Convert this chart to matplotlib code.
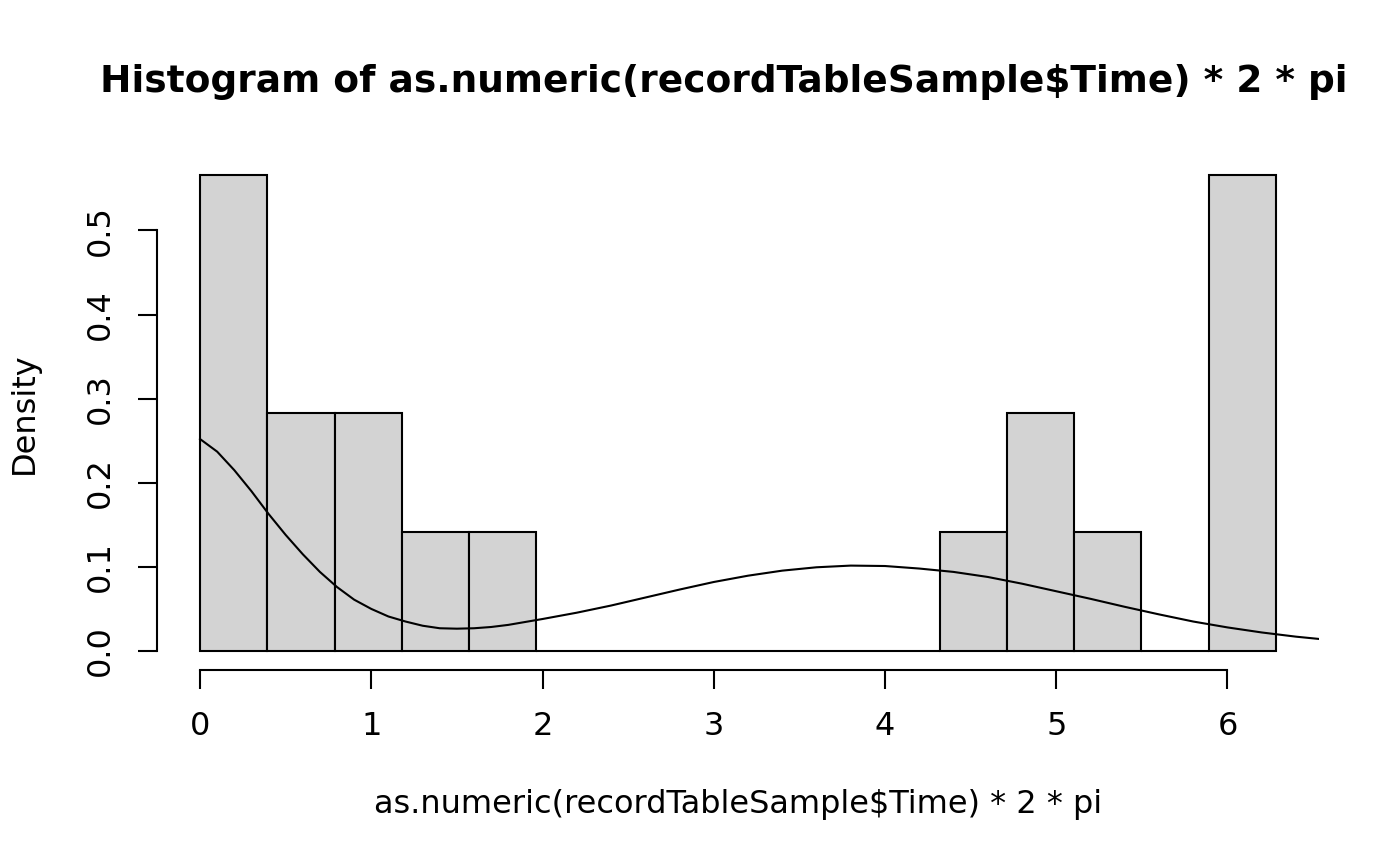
import numpy as np
import matplotlib
matplotlib.use("Agg")
import matplotlib.pyplot as plt

# histogram counts, 16 bins of width pi/8 over [0, 2*pi]
counts = [4, 2, 2, 1, 1, 0, 0, 0, 0, 0, 0, 1, 2, 1, 0, 4]
n_bins = 16
x_ticks = [0, 1, 2, 3, 4, 5, 6]
y_ticks = [0.0, 0.1, 0.2, 0.3, 0.4, 0.5]

# density curve
curve_x = [0.0, 0.1, 0.2, 0.3, 0.4, 0.5, 0.6, 0.7, 0.8, 0.9, 1.0, 1.1,
           1.2, 1.3, 1.4, 1.5, 1.6, 1.7, 1.8, 1.9, 2.0, 2.2, 2.4, 2.6,
           2.8, 3.0, 3.2, 3.4, 3.6, 3.8, 4.0, 4.2, 4.4, 4.6, 4.8, 5.0,
           5.2, 5.4, 5.6, 5.8, 6.0, 6.2, 6.4, 6.534]
curve_y = [0.252, 0.237, 0.215, 0.190, 0.163, 0.138, 0.115, 0.094, 0.076,
           0.061, 0.050, 0.041, 0.035, 0.030, 0.027, 0.0265, 0.027, 0.0285,
           0.031, 0.0345, 0.038, 0.0455, 0.054, 0.0635, 0.073, 0.082,
           0.0895, 0.0955, 0.0995, 0.1015, 0.101, 0.098, 0.094, 0.088,
           0.080, 0.071, 0.062, 0.0525, 0.0435, 0.035, 0.028, 0.022, 0.017,
           0.0143]

title = "Histogram of as.numeric(recordTableSample$Time) * 2 * pi"
xlab = "as.numeric(recordTableSample$Time) * 2 * pi"
ylab = "Density"

edges = np.linspace(0, 2 * np.pi, n_bins + 1)
width = edges[1] - edges[0]
density = np.array(counts) / (sum(counts) * width)

plt.rcParams["font.family"] = ["DejaVu Sans"]
fs = 23
lw = 1.5

fig = plt.figure(figsize=(14, 8.66), dpi=100)
ax = fig.add_axes([157 / 1400, 1 - 670 / 866, (1319 - 157) / 1400, (670 - 156) / 866])

ax.bar(edges[:-1], density, width=width, align="edge",
       facecolor="#D3D3D3", edgecolor="black", linewidth=lw)
ax.plot(curve_x, curve_y, color="black", linewidth=lw)

xr = (0, 2 * np.pi)
ax.set_xlim(xr[0] - 0.04 * (xr[1] - xr[0]), xr[1] + 0.04 * (xr[1] - xr[0]))
ym = density.max()
ax.set_ylim(-0.04 * ym, ym * 1.04)

for s in ["top", "right"]:
    ax.spines[s].set_visible(False)
ax.spines["bottom"].set_bounds(0, 6)
ax.spines["left"].set_bounds(0, 0.5)
ax.spines["bottom"].set_linewidth(lw)
ax.spines["left"].set_linewidth(lw)

ax.set_xticks(x_ticks)
ax.set_xticklabels([str(t) for t in x_ticks])
ax.set_yticks(y_ticks)
ax.set_yticklabels([f"{t:.1f}" for t in y_ticks])
ax.tick_params(axis="both", direction="out", length=13.7, width=lw,
               labelsize=fs, pad=16)
ax.tick_params(axis="y", labelrotation=90)
for lab in ax.get_yticklabels():
    lab.set_verticalalignment("center")

fig.text(724 / 1400, 1 - 82 / 866, title, ha="center", va="center",
         fontsize=27, fontweight="bold")
fig.text(738 / 1400, 1 - 804 / 866, xlab, ha="center", va="center", fontsize=fs)
fig.text(24 / 1400, 1 - 413 / 866, ylab, ha="center", va="center",
         fontsize=fs, rotation=90)

fig.savefig("out.png", dpi=100)
